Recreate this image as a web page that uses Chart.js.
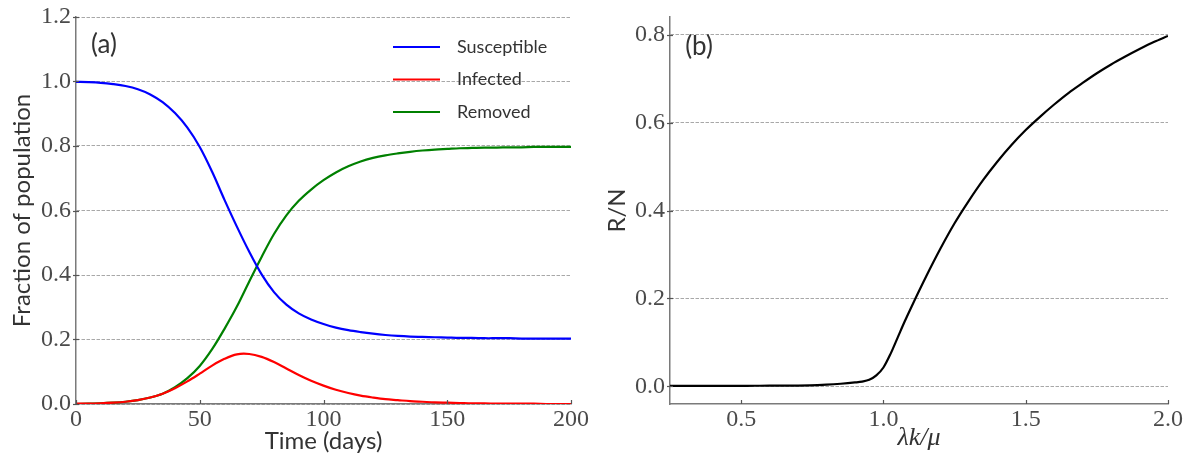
<!DOCTYPE html>
<html><head><meta charset="utf-8">
<script src="https://cdn.jsdelivr.net/npm/chart.js@4.4.1/dist/chart.umd.min.js"></script>
<style>
html,body{margin:0;padding:0;background:#fff;}
#wrap{position:relative;width:1195px;height:466px;overflow:hidden;}
#c1{position:absolute;left:0;top:0;}
#c2{position:absolute;left:600px;top:0;}
</style></head><body>
<div id="wrap"><canvas id="c1" width="600" height="466"></canvas><canvas id="c2" width="595" height="466"></canvas></div>
<script>
// ---- Panel (a): SIR time series ----
const days = [0,5,10,15,20,25,30,35,40,45,50,55,60,65,70,75,80,85,90,95,100,105,110,115,120,125,130,135,140,145,150,155,160,165,170,175,180,185,190,195,200];
const susceptible = [0.999,0.998,0.996,0.992,0.986,0.976,0.960,0.936,0.902,0.857,0.797,0.720,0.633,0.550,0.472,0.402,0.347,0.308,0.281,0.262,0.248,0.237,0.229,0.223,0.218,0.214,0.211,0.209,0.208,0.207,0.206,0.205,0.205,0.204,0.204,0.204,0.203,0.203,0.203,0.203,0.203];
const infected = [0.001,0.001,0.002,0.004,0.007,0.012,0.020,0.032,0.049,0.070,0.094,0.119,0.140,0.154,0.155,0.146,0.130,0.110,0.090,0.072,0.057,0.044,0.034,0.026,0.020,0.015,0.012,0.009,0.007,0.005,0.004,0.003,0.002,0.002,0.001,0.001,0.001,0.001,0.000,0.000,0.000];
const removed = [0.000,0.001,0.002,0.004,0.007,0.012,0.020,0.032,0.052,0.080,0.118,0.170,0.233,0.302,0.380,0.456,0.527,0.585,0.630,0.665,0.694,0.718,0.737,0.752,0.763,0.771,0.777,0.782,0.786,0.789,0.791,0.793,0.794,0.795,0.795,0.796,0.796,0.797,0.797,0.797,0.797];
const seriesNames = ['Susceptible','Infected','Removed'];
const leftXTicks = [0,50,100,150,200];
const leftYTicks = [0,0.2,0.4,0.6,0.8,1.0,1.2];

// ---- Panel (b): final epidemic size vs lambda k / mu ----
const ratio = [0.25,0.3,0.4,0.5,0.6,0.7,0.8,0.85,0.9,0.925,0.95,0.975,1.0,1.025,1.05,1.075,1.1,1.15,1.2,1.25,1.3,1.35,1.4,1.45,1.5,1.55,1.6,1.65,1.7,1.75,1.8,1.85,1.9,1.95,2.0];
const finalSize = [0.001,0.001,0.001,0.001,0.002,0.002,0.004,0.006,0.009,0.011,0.015,0.025,0.043,0.074,0.111,0.148,0.183,0.250,0.313,0.371,0.422,0.469,0.511,0.549,0.583,0.613,0.641,0.667,0.690,0.712,0.732,0.750,0.767,0.783,0.797];
const rightXTicks = [0.5,1.0,1.5,2.0];
const rightYTicks = [0,0.2,0.4,0.6,0.8];

const SERIF = "'Liberation Serif', 'DejaVu Serif', serif";
const SANS = "Lato, 'Open Sans', sans-serif";
const TICK_COLOR = '#4a4a4a';
const TEXT_COLOR = '#333333';
const SPINE = '#7a7a7a';

function fitBox(w, h) {
  return function(scale) {
    if (w != null) scale.width = w;
    if (h != null) scale.height = h;
    scale.paddingLeft = 0; scale.paddingRight = 0; scale.paddingTop = 0; scale.paddingBottom = 0;
  };
}
function setTicks(arr) {
  return function(scale) { scale.ticks = arr.map(v => ({value: v})); };
}

const decorPlugin = {
  id: 'decor',
  afterDraw(chart, args, opts) {
    const ctx = chart.ctx;
    const area = chart.chartArea;
    const xs = chart.scales.x, ys = chart.scales.y;
    ctx.save();
    ctx.strokeStyle = '#555';
    ctx.lineWidth = 1.2;
    xs.ticks.forEach(t => {
      const px = Math.round(xs.getPixelForValue(t.value)) + 0.5;
      ctx.beginPath(); ctx.moveTo(px, area.bottom); ctx.lineTo(px, area.bottom - 4); ctx.stroke();
    });
    ys.ticks.forEach(t => {
      const py = Math.round(ys.getPixelForValue(t.value)) + 0.5;
      ctx.beginPath(); ctx.moveTo(area.left - 3, py); ctx.lineTo(area.left + 3, py); ctx.stroke();
    });
    ctx.fillStyle = TEXT_COLOR;
    ctx.font = opts.labelFont;
    ctx.textAlign = 'center';
    ctx.textBaseline = 'middle';
    ctx.fillText(opts.label, opts.lx, opts.ly);
    if (opts.legend) {
      const L = opts.legend;
      ctx.font = L.font;
      ctx.textAlign = 'left';
      chart.data.datasets.forEach((ds, i) => {
        const y = L.ys[i];
        ctx.strokeStyle = ds.borderColor;
        ctx.lineWidth = ds.borderWidth;
        ctx.beginPath(); ctx.moveTo(L.x0, y); ctx.lineTo(L.x1, y); ctx.stroke();
        ctx.fillStyle = TEXT_COLOR;
        ctx.fillText(ds.label, L.tx, y);
      });
    }
    ctx.restore();
  }
};

function pts(xs, ys) { return xs.map((x, i) => ({x: x, y: ys[i]})); }

const gridCommon = { color: '#a8a8a8', lineWidth: 1, drawTicks: false };
const borderCommon = { display: true, color: SPINE, width: 1.5, dash: [3.5, 1.5] };

new Chart(document.getElementById('c1'), {
  type: 'line',
  data: {
    datasets: [
      {label: seriesNames[0], data: pts(days, susceptible), borderColor: '#0000ff', borderWidth: 2.2},
      {label: seriesNames[1], data: pts(days, infected), borderColor: '#ff0000', borderWidth: 2.2},
      {label: seriesNames[2], data: pts(days, removed), borderColor: '#008000', borderWidth: 2.2}
    ].map(d => Object.assign(d, {pointRadius: 0, fill: false, tension: 0.35}))
  },
  options: {
    responsive: false, animation: false, devicePixelRatio: 1,
    layout: {padding: {top: 17, right: 29, left: 0, bottom: 0}},
    plugins: {
      legend: {display: false}, tooltip: {enabled: false},
      decor: {label: '(a)', lx: 104, ly: 45, labelFont: "26px " + SANS,
        legend: {x0: 393, x1: 440, tx: 457, ys: [47, 79.5, 112], font: "18px " + SANS}}
    },
    scales: {
      x: {
        type: 'linear', min: 0, max: 200,
        afterFit: fitBox(null, 62), afterBuildTicks: setTicks(leftXTicks),
        grid: {display: false, drawTicks: false},
        border: {display: true, color: SPINE, width: 1.5},
        ticks: {color: TICK_COLOR, font: {family: SERIF, size: 24}, padding: 1, maxRotation: 0,
          callback: v => String(v)},
        title: {display: true, text: 'Time (days)', color: TEXT_COLOR, font: {family: SANS, size: 24}, padding: {top: 0, bottom: 10}}
      },
      y: {
        type: 'linear', min: 0, max: 1.2,
        afterFit: fitBox(76, null), afterBuildTicks: setTicks(leftYTicks),
        grid: gridCommon, border: borderCommon,
        ticks: {color: TICK_COLOR, font: {family: SERIF, size: 24}, padding: 5, callback: v => v.toFixed(1)},
        title: {display: true, text: 'Fraction of population', color: TEXT_COLOR, font: {family: SANS, size: 24}, padding: {top: 8, bottom: 0}}
      }
    }
  },
  plugins: [decorPlugin]
});

new Chart(document.getElementById('c2'), {
  type: 'line',
  data: {
    datasets: [
      {label: 'R/N', data: pts(ratio, finalSize), borderColor: '#000000', borderWidth: 2.2, pointRadius: 0, fill: false, cubicInterpolationMode: 'monotone'}
    ]
  },
  options: {
    responsive: false, animation: false, devicePixelRatio: 1,
    layout: {padding: {top: 17, right: 27, left: 0, bottom: 0}},
    plugins: {
      legend: {display: false}, tooltip: {enabled: false},
      decor: {label: '(b)', lx: 99, ly: 47, labelFont: "26px " + SANS}
    },
    scales: {
      x: {
        type: 'linear', min: 0.25, max: 2.0,
        afterFit: fitBox(null, 62), afterBuildTicks: setTicks(rightXTicks),
        grid: {display: false, drawTicks: false},
        border: {display: true, color: SPINE, width: 1.5},
        ticks: {color: TICK_COLOR, font: {family: SERIF, size: 24}, padding: 1, maxRotation: 0,
          callback: v => v.toFixed(1)},
        title: {display: true, text: 'λk/μ', color: TEXT_COLOR, font: {family: SERIF, size: 26, style: 'italic'}, padding: {top: 0, bottom: 12}}
      },
      y: {
        type: 'linear', min: -0.04, max: 0.84,
        afterFit: fitBox(70, null), afterBuildTicks: setTicks(rightYTicks),
        grid: gridCommon, border: borderCommon,
        ticks: {color: TICK_COLOR, font: {family: SERIF, size: 24}, padding: 5, callback: v => v.toFixed(1)},
        title: {display: true, text: 'R/N', color: TEXT_COLOR, font: {family: SANS, size: 24}, padding: {top: 3, bottom: 0}}
      }
    }
  },
  plugins: [decorPlugin]
});
</script>
</body></html>
